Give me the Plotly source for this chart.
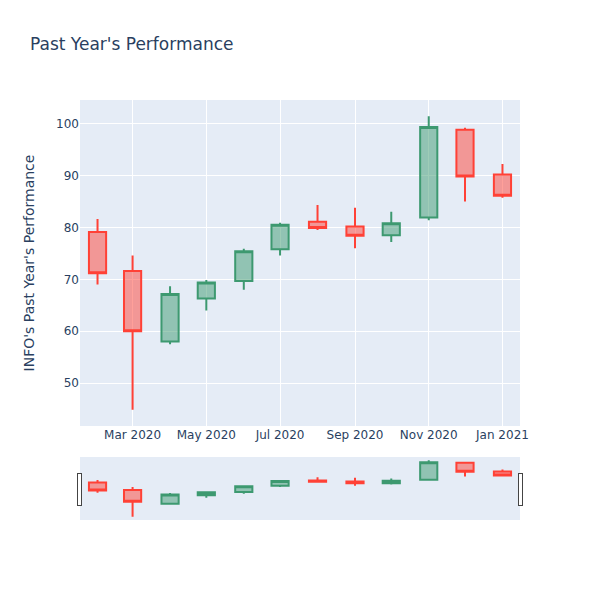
import plotly.graph_objects as go

dates = ["2020-02-01", "2020-03-01", "2020-04-01", "2020-05-01", "2020-06-01", "2020-07-01",
         "2020-08-01", "2020-09-01", "2020-10-01", "2020-11-01", "2020-12-01", "2021-01-01"]
opens = [79.1, 71.6, 58.05, 66.3, 69.7, 75.8, 81.1, 80.2, 78.5, 81.9, 98.8, 90.2]
highs = [81.6, 74.6, 68.65, 69.9, 75.9, 80.9, 84.3, 83.8, 83.0, 101.4, 99.2, 92.2]
lows = [69.0, 44.9, 57.5, 64.0, 68.0, 74.6, 79.5, 76.0, 77.2, 81.4, 85.0, 85.7]
closes = [71.2, 60.0, 67.2, 69.4, 75.4, 80.5, 79.9, 78.4, 80.8, 99.35, 89.8, 86.1]

fig = go.Figure(go.Candlestick(x=dates, open=opens, high=highs, low=lows, close=closes))
fig.update_layout(
    title="Past Year's Performance",
    width=600, height=600,
    font=dict(family="DejaVu Sans"),
)
fig.update_yaxes(title=dict(text="INFO's Past Year's Performance", standoff=18))
fig.write_html("out.html", config={"displayModeBar": False},
               post_script="document.body.style.margin='0';")
